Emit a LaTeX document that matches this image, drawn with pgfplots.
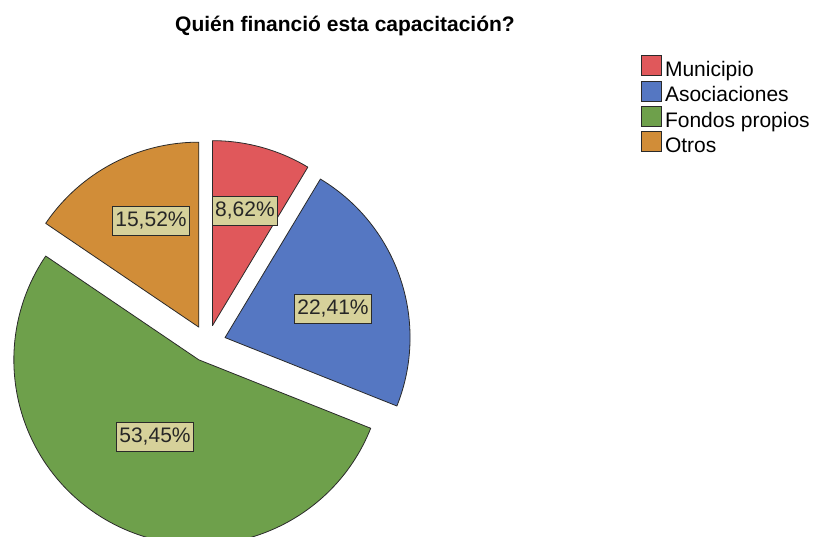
\documentclass[border=0pt]{standalone}
\usepackage{pgfplots}
\pgfplotsset{compat=1.18}
\usepackage{pgfplotstable}
\usepackage{fontspec}
\setmainfont{Liberation Sans}

\definecolor{slice0}{HTML}{E0585B}
\definecolor{slice1}{HTML}{5577C2}
\definecolor{slice2}{HTML}{6EA04B}
\definecolor{slice3}{HTML}{D18D38}
\definecolor{labfill}{HTML}{D6D19A}
\definecolor{edge}{HTML}{2A2A2A}

% share (%), label position (px, y up)
\pgfplotstableread{
name v lx ly
Municipio 8.62 245 326
Asociaciones 22.41 333 228
Fondos 53.45 155 100
Otros 15.52 151 316
}\piedata

\begin{document}
\begin{tikzpicture}
\path[use as bounding box] (0,0) rectangle (813pt,537pt);

% pie geometry (axis units = pt)
\def\cx{207.5}\def\cy{193.5}\def\R{185}\def\D{18.5}
\def\curang{90}
\pgfplotsforeachungrouped \i in {0,...,3}{%
  \pgfplotstablegetelem{\i}{v}\of\piedata \let\v\pgfplotsretval
  \pgfmathsetmacro\sa{\curang}%
  \pgfmathsetmacro\ea{\curang-3.6*\v}%
  \pgfmathsetmacro\ma{(\sa+\ea)/2}%
  \pgfmathsetmacro\ox{\cx+\D*cos(\ma)}%
  \pgfmathsetmacro\oy{\cy+\D*sin(\ma)}%
  \pgfmathsetmacro\px{\ox+\R*cos(\sa)}%
  \pgfmathsetmacro\py{\oy+\R*sin(\sa)}%
  \expandafter\xdef\csname sa\i\endcsname{\sa}%
  \expandafter\xdef\csname ea\i\endcsname{\ea}%
  \expandafter\xdef\csname ox\i\endcsname{\ox}%
  \expandafter\xdef\csname oy\i\endcsname{\oy}%
  \expandafter\xdef\csname px\i\endcsname{\px}%
  \expandafter\xdef\csname py\i\endcsname{\py}%
  \expandafter\xdef\csname v\i\endcsname{\v}%
  \pgfplotstablegetelem{\i}{lx}\of\piedata
  \expandafter\xdef\csname lx\i\endcsname{\pgfplotsretval}%
  \pgfplotstablegetelem{\i}{ly}\of\piedata
  \expandafter\xdef\csname ly\i\endcsname{\pgfplotsretval}%
  \xdef\curang{\ea}%
}

\begin{axis}[
  x=1pt, y=1pt, xmin=0, xmax=813, ymin=0, ymax=537,
  hide axis, clip=true,
  legend image code/.code={\draw[#1, line width=0.8pt] (0pt,-4pt) rectangle (20pt,16pt);},
  legend style={at={(axis cs:641,482)}, anchor=north west, draw=none, fill=none,
    inner sep=0pt, row sep=-1pt, column sep=3pt,
    font=\fontsize{21}{21}\selectfont,
    nodes={inner sep=0pt, text height=15pt, text depth=5pt},
    cells={anchor=west}},
]
\pgfplotsinvokeforeach{0,...,3}{
  \fill[fill=slice#1, draw=edge, line width=0.8pt, line join=round]
    (axis cs:\csname ox#1\endcsname,\csname oy#1\endcsname)
    -- (axis cs:\csname px#1\endcsname,\csname py#1\endcsname)
    arc[start angle=\csname sa#1\endcsname, end angle=\csname ea#1\endcsname, radius=185pt]
    -- cycle;
}
\pgfplotsinvokeforeach{0,...,3}{
  \node[fill=labfill, draw=edge, line width=1pt, inner xsep=3pt, inner ysep=5pt,
    text height=15pt, text depth=4pt, text=black!85,
    font=\fontsize{21}{21}\selectfont]
    at (axis cs:\csname lx#1\endcsname,\csname ly#1\endcsname)
    {\pgfmathprintnumber[fixed, precision=2, fixed zerofill, use comma, assume math mode=true]{\csname v#1\endcsname}\%};
}
\node[font=\bfseries\fontsize{21}{21}\selectfont] at (axis cs:345,511) {Quién financió esta capacitación?};

\addlegendimage{fill=slice0, draw=edge}\addlegendentry{Municipio}
\addlegendimage{fill=slice1, draw=edge}\addlegendentry{Asociaciones}
\addlegendimage{fill=slice2, draw=edge}\addlegendentry{Fondos propios}
\addlegendimage{fill=slice3, draw=edge}\addlegendentry{Otros}
\end{axis}
\end{tikzpicture}
\end{document}
